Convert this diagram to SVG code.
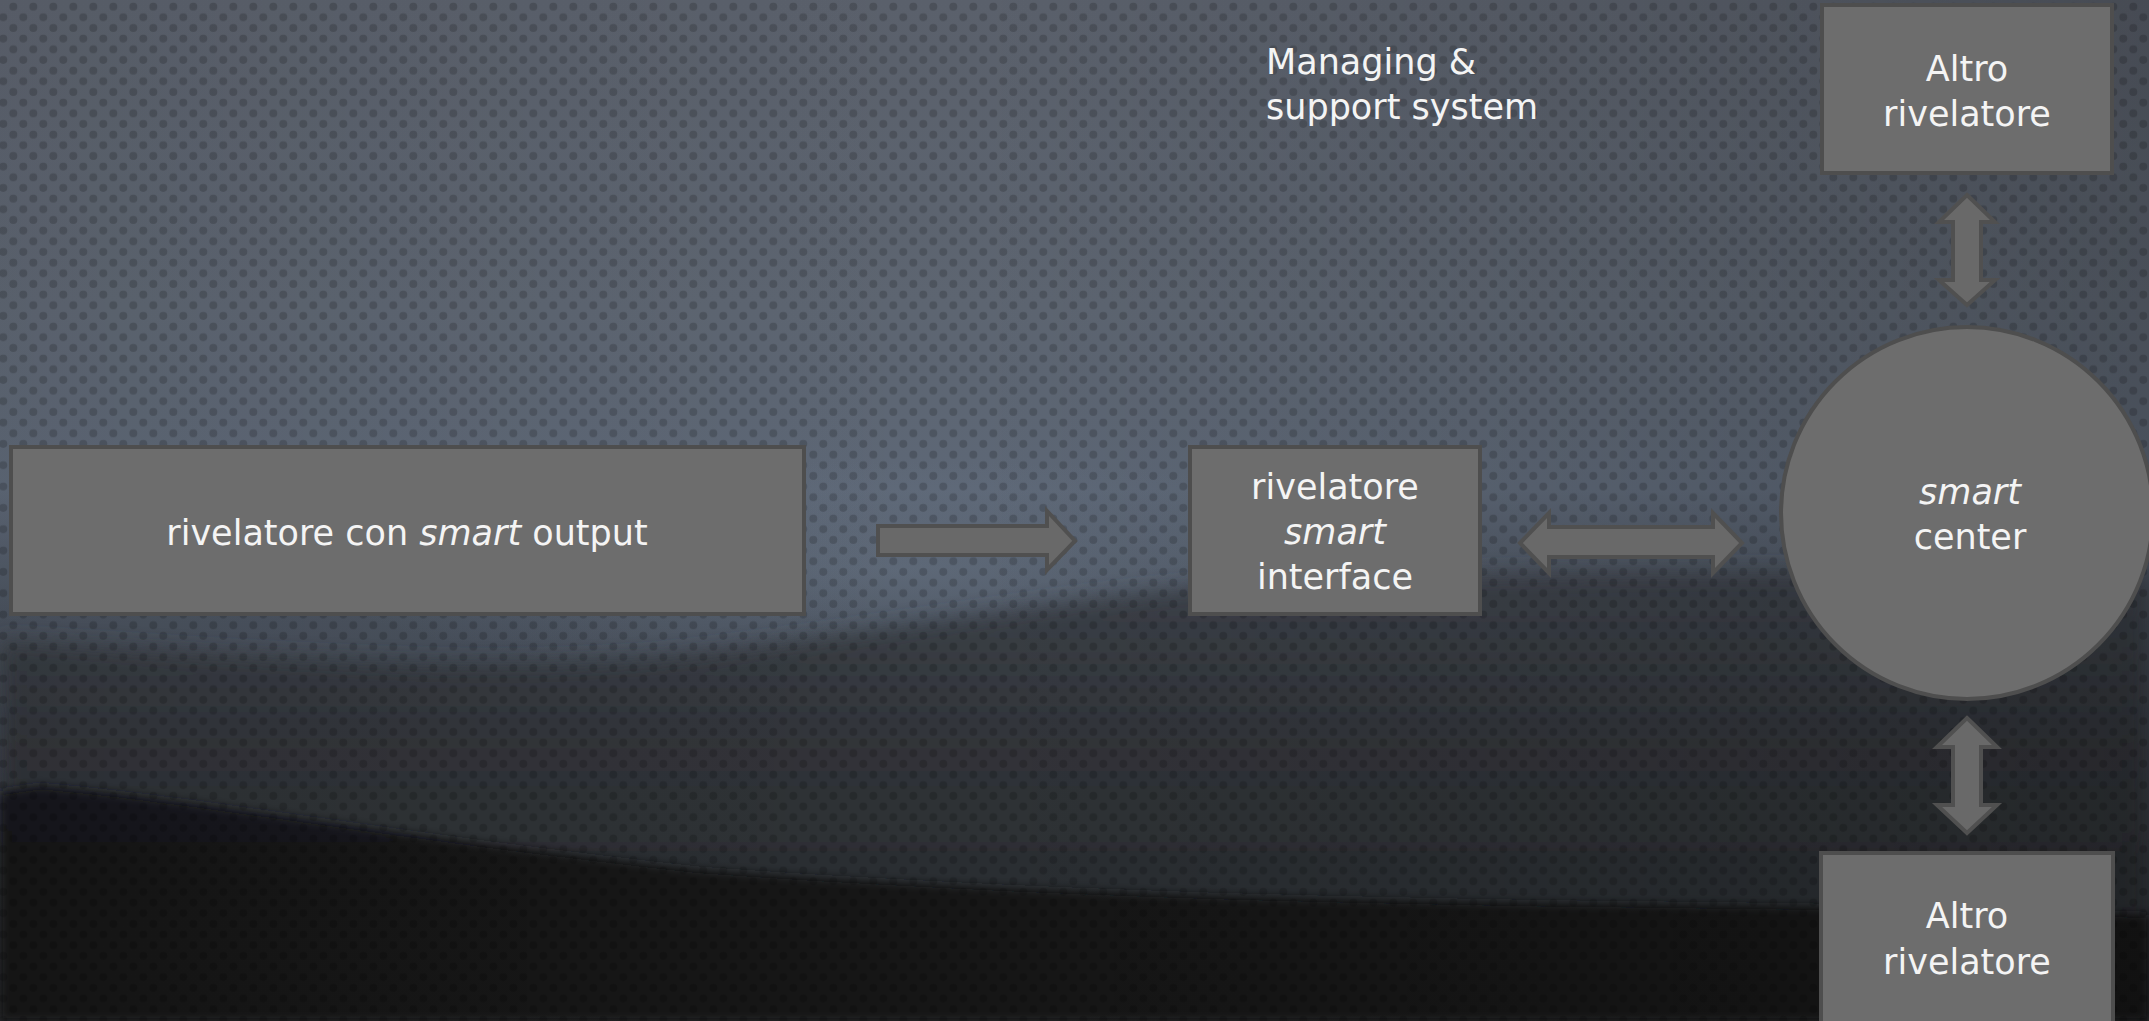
<svg xmlns="http://www.w3.org/2000/svg" width="2149" height="1021" viewBox="0 0 2149 1021">
  <defs>
    <linearGradient id="sky" x1="0" y1="0" x2="0" y2="1">
      <stop offset="0" stop-color="#5a606b"/>
      <stop offset="0.3" stop-color="#5d6571"/>
      <stop offset="0.48" stop-color="#5d6776"/>
      <stop offset="0.6" stop-color="#4a525e"/>
      <stop offset="1" stop-color="#2c2f34"/>
    </linearGradient>
    <linearGradient id="shadeR" x1="0" y1="0" x2="1" y2="0">
      <stop offset="0" stop-color="#000" stop-opacity="0.05"/>
      <stop offset="0.45" stop-color="#000" stop-opacity="0"/>
      <stop offset="0.75" stop-color="#000" stop-opacity="0.1"/>
      <stop offset="1" stop-color="#000" stop-opacity="0.22"/>
    </linearGradient>
    <radialGradient id="glow" cx="0.5" cy="0.5" r="0.5">
      <stop offset="0" stop-color="#6a7788" stop-opacity="0.5"/>
      <stop offset="1" stop-color="#6a7788" stop-opacity="0"/>
    </radialGradient>
    <linearGradient id="hill1" x1="0" y1="0" x2="0" y2="1">
      <stop offset="0" stop-color="#3d424a"/>
      <stop offset="0.4" stop-color="#303338"/>
      <stop offset="1" stop-color="#26282b"/>
    </linearGradient>
    <linearGradient id="hill2" x1="0" y1="0" x2="0" y2="1">
      <stop offset="0" stop-color="#18191b"/>
      <stop offset="1" stop-color="#121314"/>
    </linearGradient>
    <pattern id="dots" width="20" height="21.33" patternUnits="userSpaceOnUse">
      <circle cx="13.3" cy="6.7" r="4"/>
      <circle cx="3.3" cy="17.3" r="4"/>
      <circle cx="23.3" cy="17.3" r="4"/>
    </pattern>
    <filter id="soft" x="-5%" y="-10%" width="110%" height="120%">
      <feGaussianBlur stdDeviation="10"/>
    </filter>
    <filter id="soft2" x="-5%" y="-10%" width="110%" height="120%">
      <feGaussianBlur stdDeviation="5"/>
    </filter>
  </defs>
  <style>
    .box { fill: #6d6d6d; stroke: #4e4e4e; stroke-width: 4; }
    .arrow { fill: #696969; stroke: #505050; stroke-width: 4; stroke-linejoin: miter; }
    .t { font-family: "DejaVu Sans", "Liberation Sans", sans-serif; font-size: 35px; fill: #f4f4f4; }
    .c { text-anchor: middle; }
    .i { font-style: italic; }
  </style>

  <g id="background">
    <rect width="2149" height="1021" fill="url(#sky)"/>
    <ellipse cx="900" cy="570" rx="600" ry="110" fill="url(#glow)"/>
    <path d="M0,640 C250,655 450,672 650,658 C850,638 1050,598 1250,583 C1550,568 1850,570 2149,578 L2149,1021 L0,1021 Z" fill="url(#hill1)" filter="url(#soft)"/>
    <path d="M0,792 L40,786 C200,800 420,840 700,870 C1000,892 1300,900 1600,904 C1800,906 2000,910 2149,915 L2149,1021 L0,1021 Z" fill="url(#hill2)" filter="url(#soft2)"/>
    <rect width="2149" height="1021" fill="url(#shadeR)"/>
    <rect width="2149" height="1021" fill="url(#dots)" opacity="0.17"/>
  </g>

  <g id="label-managing">
    <text class="t" x="1266" y="74">Managing &amp;</text>
    <text class="t" x="1266" y="119">support system</text>
  </g>

  <g id="node-output">
    <rect class="box" x="11" y="447" width="793" height="167"/>
    <text class="t c" x="407" y="545">rivelatore con <tspan class="i">smart</tspan> output</text>
  </g>

  <g id="node-interface">
    <rect class="box" x="1190" y="447" width="290" height="167"/>
    <text class="t c" x="1335" y="499">rivelatore</text>
    <text class="t c i" x="1335" y="544">smart</text>
    <text class="t c" x="1335" y="589">interface</text>
  </g>

  <g id="node-center">
    <circle class="box" cx="1967" cy="513" r="186"/>
    <text class="t c i" x="1970" y="504">smart</text>
    <text class="t c" x="1970" y="549">center</text>
  </g>

  <g id="node-altro-top">
    <rect class="box" x="1822" y="5" width="290" height="168"/>
    <text class="t c" x="1967" y="81">Altro</text>
    <text class="t c" x="1967" y="126">rivelatore</text>
  </g>

  <g id="node-altro-bottom">
    <rect class="box" x="1821" y="853" width="292" height="180"/>
    <text class="t c" x="1967" y="928">Altro</text>
    <text class="t c" x="1967" y="974">rivelatore</text>
  </g>

  <g id="connectors">
    <path class="arrow" d="M878,526 L1047,526 L1047,511 L1075,541 L1047,570 L1047,555 L878,555 Z"/>
    <path class="arrow" d="M1520,543 L1549,513 L1549,527 L1713,527 L1713,513 L1742,543 L1713,573 L1713,557 L1549,557 L1549,573 Z"/>
    <path class="arrow" d="M1967,195 L1995,222 L1981,222 L1981,280 L1995,280 L1967,305 L1939,280 L1953,280 L1953,222 L1939,222 Z"/>
    <path class="arrow" d="M1967,718 L1997,747 L1981,747 L1981,805 L1997,805 L1967,833 L1937,805 L1953,805 L1953,747 L1937,747 Z"/>
  </g>
</svg>
